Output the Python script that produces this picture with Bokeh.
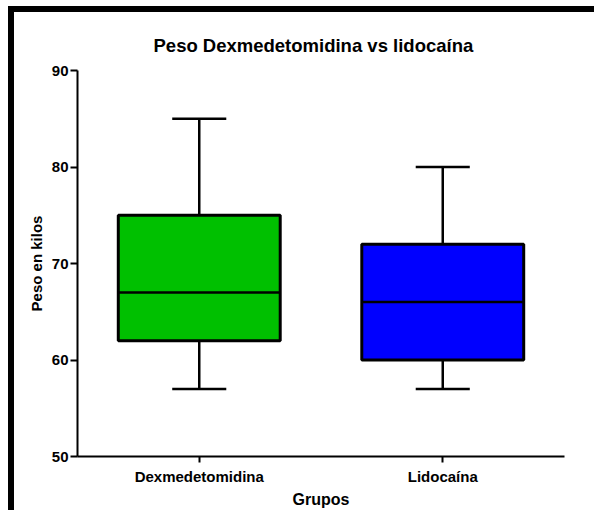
from bokeh.plotting import figure
from bokeh.models import FactorRange, Range1d, FixedTicker, ColumnDataSource, Div
from bokeh.layouts import column, row
from bokeh.transform import dodge
from bokeh.embed import file_html
from bokeh.resources import INLINE

groups = ["Dexmedetomidina", "Lidocaína"]
w_low = [57, 57]
q1 = [62, 60]
median = [67, 66]
q3 = [75, 72]
w_high = [85, 80]
colors = ["#00C000", "#0000FF"]
y_ticks = [50, 60, 70, 80, 90]

src = ColumnDataSource(dict(g=groups, lo=w_low, q1=q1, med=median, q3=q3, hi=w_high, c=colors))

FONT = "Liberation Sans"

p = figure(
    x_range=FactorRange(factors=groups), y_range=Range1d(50, 90),
    width=580, height=498, output_backend="svg", toolbar_location=None,
    min_border_left=63, min_border_right=30, min_border_top=58, min_border_bottom=53,
    title="Peso Dexmedetomidina vs lidocaína",
)
p.outline_line_color = None
p.xgrid.visible = False
p.ygrid.visible = False

p.title.align = "left"
p.title.offset = 66
p.title.padding = 10
p.title.text_font = FONT
p.title.text_font_size = "18.5px"
p.title.text_font_style = "bold"
p.title.text_color = "black"

# whiskers
p.segment(x0="g", x1="g", y0="q3", y1="hi", source=src, line_color="black", line_width=2.5)
p.segment(x0="g", x1="g", y0="lo", y1="q1", source=src, line_color="black", line_width=2.5)
# caps
p.segment(x0=dodge("g", -0.111, range=p.x_range), x1=dodge("g", 0.111, range=p.x_range),
          y0="hi", y1="hi", source=src, line_color="black", line_width=2.5)
p.segment(x0=dodge("g", -0.111, range=p.x_range), x1=dodge("g", 0.111, range=p.x_range),
          y0="lo", y1="lo", source=src, line_color="black", line_width=2.5)
# boxes
p.vbar(x="g", width=0.665, bottom="q1", top="q3", source=src, fill_color="c",
       line_color="black", line_width=3)
# medians
p.segment(x0=dodge("g", -0.3325, range=p.x_range), x1=dodge("g", 0.3325, range=p.x_range),
          y0="med", y1="med", source=src, line_color="black", line_width=2.5)

for ax in (p.xaxis[0], p.yaxis[0]):
    ax.axis_line_width = 2
    ax.axis_line_color = "black"
    ax.major_tick_line_width = 2
    ax.major_tick_line_color = "black"
    ax.major_tick_out = 7
    ax.major_tick_in = 0
    ax.minor_tick_line_color = None
    ax.major_label_text_font = FONT
    ax.major_label_text_font_style = "bold"
    ax.major_label_text_font_size = "15px"
    ax.major_label_text_color = "black"
    ax.axis_label_text_font = FONT
    ax.axis_label_text_font_style = "bold"
    ax.axis_label_text_font_size = "16px"
    ax.axis_label_text_color = "black"

p.xaxis.major_tick_out = 6
p.yaxis.ticker = FixedTicker(ticks=y_ticks)
p.yaxis.major_label_standoff = 2
p.yaxis.axis_label = "Peso en kilos"
p.yaxis.axis_label_text_font_size = "15px"
p.yaxis.axis_label_standoff = 4
p.xaxis.axis_label = "Grupos"
p.xaxis.axis_label_standoff = 3

top_bar = Div(width=586, height=6, margin=0, styles={"background-color": "black"})
left_bar = Div(width=6, height=498, margin=0, styles={"background-color": "black"})
layout = column(top_bar, row(left_bar, p, spacing=0, margin=0), spacing=0, margin=(6, 0, 0, 8))

open("out.html", "w").write(file_html(layout, INLINE))
